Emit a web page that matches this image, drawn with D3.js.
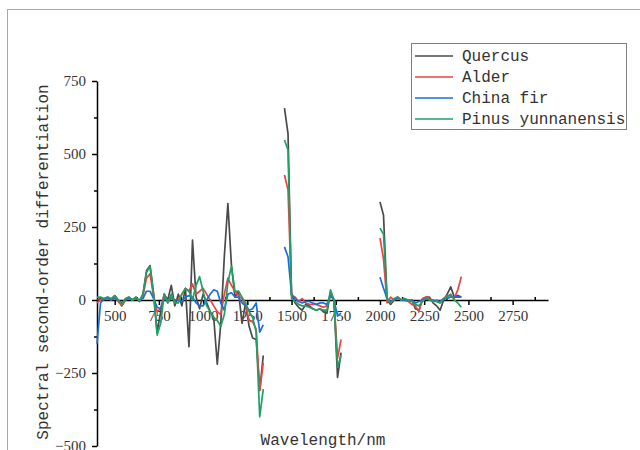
<!DOCTYPE html>
<html lang="en">
<head>
<meta charset="utf-8">
<script src="https://d3js.org/d3.v7.min.js"></script>
<style>
  body { margin: 0; background: #fff; }
  svg { display: block; }
</style>
</head>
<body>
<script>
// wavelengths (nm), three bands with the water bands cut out
var band1 = [400,420,440,460,480,500,520,540,560,580,600,620,640,660,680,700,720,740,760,780,
             800,820,840,860,880,900,920,940,960,980,1000,1020,1040,1060,1080,1100,1120,1140,1160,1180,
             1200,1220,1240,1260,1280,1300,1320,1340];
var band2 = [1460,1480,1500,1520,1540,1560,1580,1600,1620,1640,1660,1680,1700,1720,1740,1760,1780];
var band3 = [2000,2020,2040,2060,2080,2100,2120,2140,2160,2180,2200,2220,2240,2260,2280,2300,
             2320,2340,2360,2380,2400,2420,2440,2460];
var wavelengths = band1.concat(band2, band3);

var quercus = [0,5,0,10,0,15,0,-20,0,10,0,10,-5,20,100,118,20,-110,-40,20,
               0,50,-20,20,-20,40,-160,205,10,-30,20,-10,-40,-60,-220,-80,150,330,120,10,
               30,-80,-10,-90,-130,-135,-310,-190,
               657,570,20,-10,-25,-35,-15,-20,-30,-35,-30,-40,-45,25,0,-265,-180,
               336,290,0,-15,0,10,0,0,-5,0,-30,-35,0,10,10,-10,-20,-35,0,20,45,10,15,10];
var alder = [-10,0,5,5,0,10,-5,-20,0,5,0,5,0,15,75,90,10,-40,-30,20,
             -10,10,0,0,20,40,30,55,20,30,40,20,0,-20,-40,-50,20,75,50,30,
             15,5,-20,-70,-75,-100,-310,-215,
             428,377,15,10,-5,5,-10,-15,-15,-15,-20,-25,-20,20,0,-200,-135,
             212,140,-10,10,0,10,0,5,-5,-15,-20,-40,5,10,5,-5,0,-10,5,15,15,5,35,80];
var chinaFir = [-150,-10,5,5,0,5,0,-10,0,5,0,5,0,5,30,30,5,-25,-30,5,
                0,5,0,0,-5,10,15,10,-10,-20,-20,0,20,35,30,-10,-35,20,25,10,
                10,-10,-20,-35,-30,-10,-110,-85,
                182,148,20,5,-5,-10,-5,-5,-10,-15,-10,-10,-15,15,0,-55,-45,
                78,40,5,-5,0,5,0,0,0,0,-10,-5,0,5,0,0,-5,-5,5,5,10,10,10,10];
var pinus = [10,10,5,10,5,15,0,-15,5,10,0,10,-5,20,95,115,20,-120,-80,20,
             -10,20,-10,-10,20,40,30,0,50,80,30,-20,-40,-60,-70,-90,-50,60,115,30,
             30,10,-10,-40,-60,-110,-400,-305,
             548,514,5,-5,-15,-20,-20,-25,-30,-35,-30,-35,-35,35,0,-230,-190,
             246,225,5,-10,5,10,0,5,0,-5,-15,-20,-5,5,0,-5,-5,-10,5,10,20,0,-10,-25];

var seriesNames = ["Quercus", "Alder", "China fir", "Pinus yunnanensis"];
var seriesValues = [quercus, alder, chinaFir, pinus];
var seriesColors = ["#4a4a4a", "#F14040", "#1A6FDF", "#1fa065"];

var xMajor = [500,750,1000,1250,1500,1750,2000,2250,2500,2750];
var xMinor = [625,875,1125,1375,1625,1875,2125,2375,2625,2875];
var yMajor = [-500,-250,0,250,500,750];
var yMinor = [-375,-125,125,375,625];

var W = 640, H = 450;
var svg = d3.select("body").append("svg").attr("width", W).attr("height", H);

// outer frame
svg.append("rect").attr("x", 7.5).attr("y", 9.5).attr("width", 700).attr("height", 500)
  .attr("fill", "none").attr("stroke", "#a8a8a8").attr("stroke-width", 1);

var x = d3.scaleLinear().domain([400, 2950]).range([97, 548]);
var y = d3.scaleLinear().domain([-500, 750]).range([446, 81]);

var numFont = "'Liberation Serif', 'Times New Roman', serif";
var monoFont = "'Liberation Mono', 'DejaVu Sans Mono', monospace";

// x axis on the zero line
var xg = svg.append("g").attr("transform", "translate(0," + y(0) + ")")
  .call(d3.axisBottom(x).tickValues(xMajor).tickSize(5).tickSizeOuter(0).tickFormat(d3.format("d")));
xg.select(".domain").attr("stroke", "#000").attr("stroke-width", 1.5);
xg.selectAll(".tick line").attr("stroke", "#000").attr("stroke-width", 1.5);
xg.selectAll(".tick text").attr("font-family", numFont).attr("font-size", 15).attr("fill", "#333").attr("dy", "0.85em");
var xm = svg.append("g").attr("transform", "translate(0," + y(0) + ")")
  .call(d3.axisTop(x).tickValues(xMinor).tickSize(3).tickFormat(""));
xm.select(".domain").remove();
xm.selectAll(".tick line").attr("stroke", "#000").attr("stroke-width", 1.5);

// y axis
var yg = svg.append("g").attr("transform", "translate(" + x(400) + ",0)")
  .call(d3.axisLeft(y).tickValues(yMajor).tickSize(5).tickSizeOuter(0));
yg.select(".domain").attr("stroke", "#000").attr("stroke-width", 1.5);
yg.selectAll(".tick line").attr("stroke", "#000").attr("stroke-width", 1.5);
yg.selectAll(".tick text").attr("font-family", numFont).attr("font-size", 15).attr("fill", "#333").attr("x", -11);
var ym = svg.append("g").attr("transform", "translate(" + x(400) + ",0)")
  .call(d3.axisLeft(y).tickValues(yMinor).tickSize(3).tickFormat(""));
ym.select(".domain").remove();
ym.selectAll(".tick line").attr("stroke", "#000").attr("stroke-width", 1.5);

// spectra, broken where the wavelength jumps
function segments(vals) {
  var segs = [], cur = [];
  wavelengths.forEach(function(w, i) {
    if (i > 0 && w - wavelengths[i - 1] > 50) { segs.push(cur); cur = []; }
    cur.push([w, vals[i]]);
  });
  segs.push(cur);
  return segs;
}
var line = d3.line().x(function(d) { return x(d[0]); }).y(function(d) { return y(d[1]); });

seriesValues.forEach(function(vals, k) {
  svg.append("g").selectAll("path").data(segments(vals)).enter().append("path")
    .attr("d", line).attr("fill", "none")
    .attr("stroke", seriesColors[k]).attr("stroke-width", 1.7).attr("stroke-linejoin", "round");
});

// axis titles
svg.append("text").attr("transform", "translate(48," + 262 + ") rotate(-90)")
  .attr("text-anchor", "middle").attr("font-family", monoFont).attr("font-size", 16)
  .attr("fill", "#333").text("Spectral second-order differentiation");
svg.append("text").attr("x", 323).attr("y", 445).attr("text-anchor", "middle")
  .attr("font-family", monoFont).attr("font-size", 16).attr("fill", "#333").text("Wavelength/nm");

// legend
var lg = svg.append("g");
lg.append("rect").attr("x", 411.5).attr("y", 43.5).attr("width", 215).attr("height", 86)
  .attr("fill", "#fff").attr("stroke", "#808080").attr("stroke-width", 1);
seriesNames.forEach(function(name, k) {
  var ly = 56 + k * 21;
  lg.append("line").attr("x1", 415).attr("x2", 453).attr("y1", ly).attr("y2", ly)
    .attr("stroke", seriesColors[k]).attr("stroke-width", 1.5);
  lg.append("text").attr("x", 462).attr("y", ly + 5).attr("font-family", monoFont)
    .attr("font-size", 16).attr("fill", "#333").text(name);
});
</script>
</body>
</html>
